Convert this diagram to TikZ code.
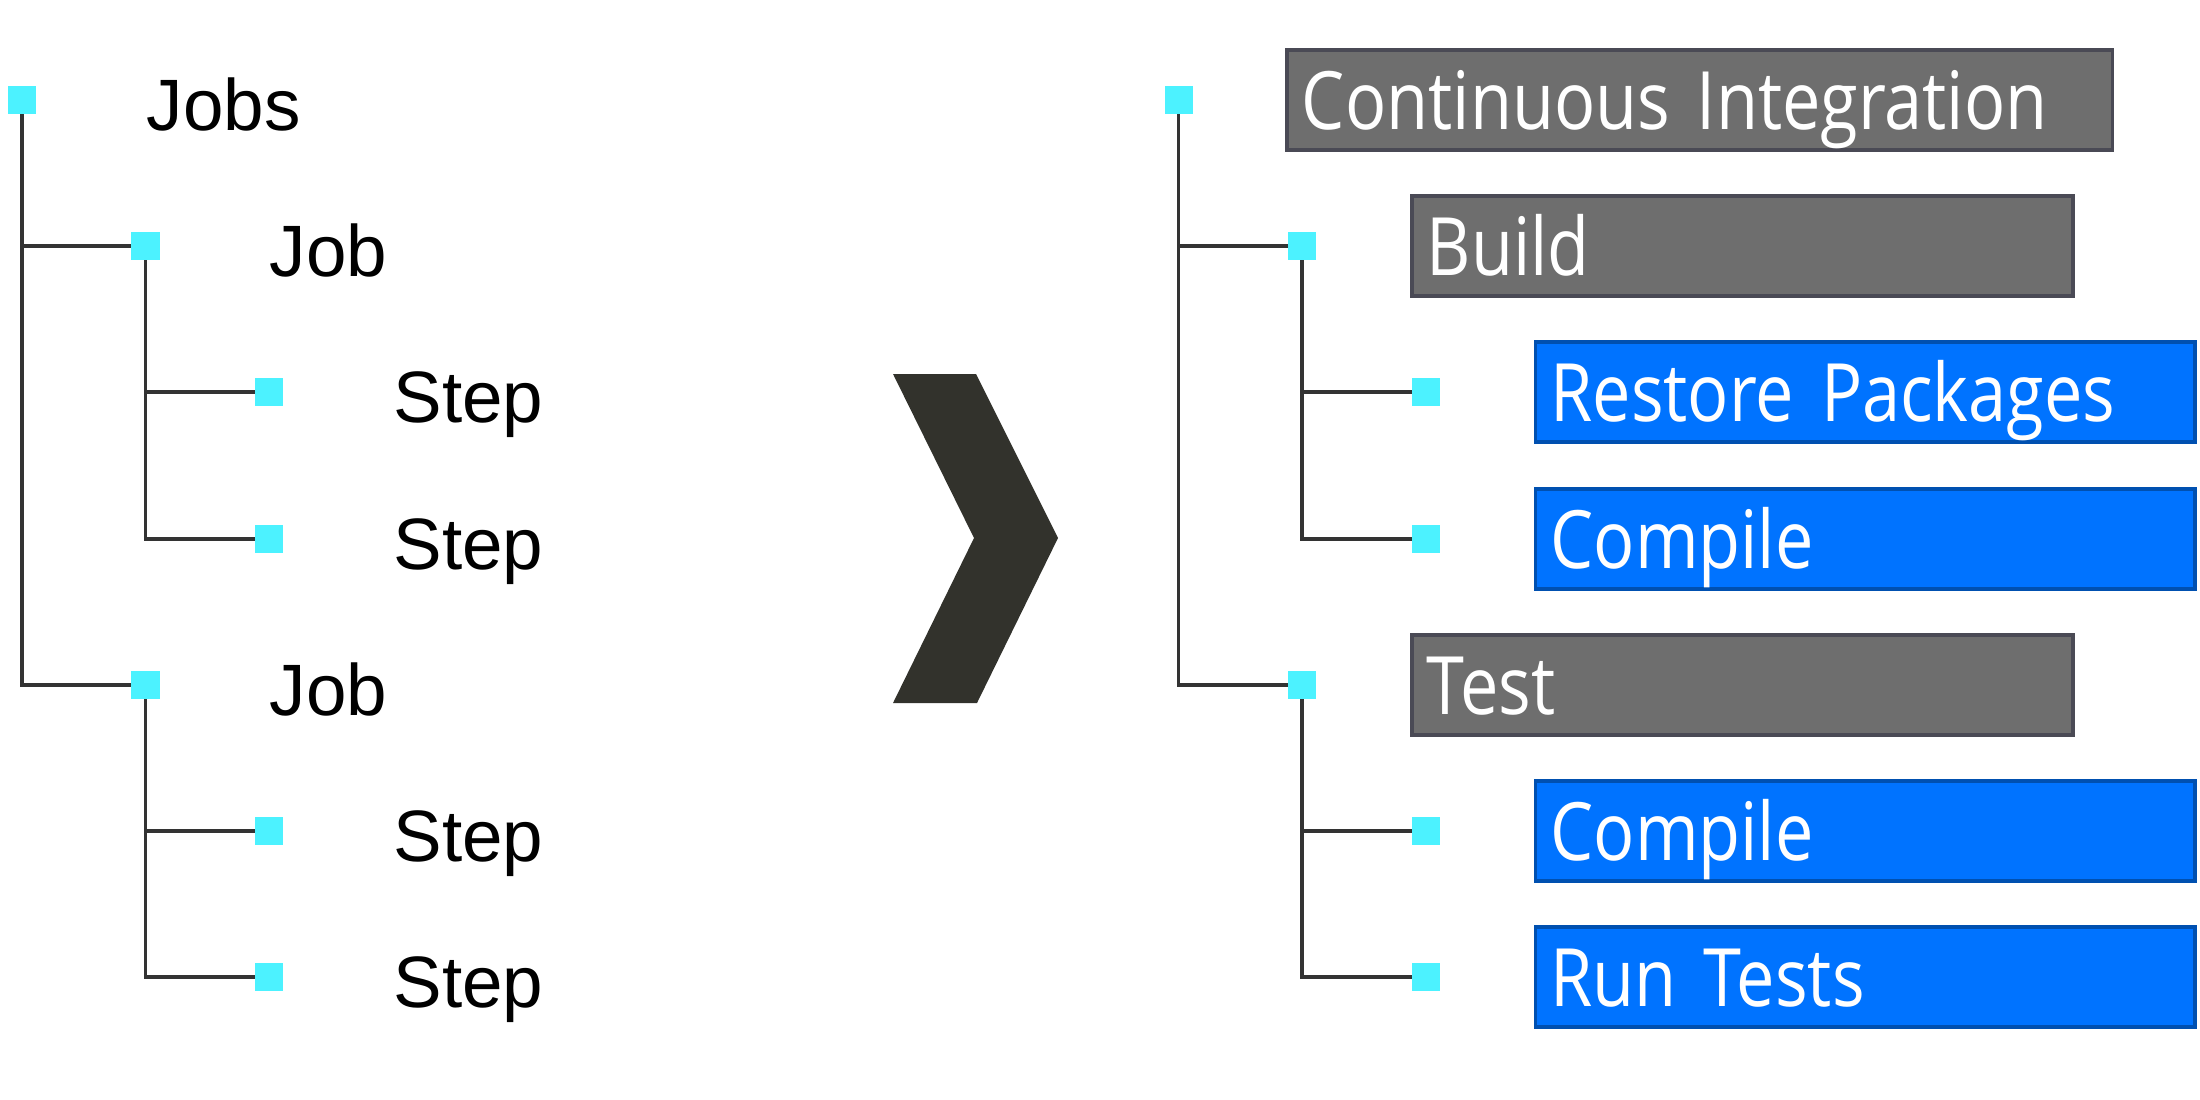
\documentclass[tikz,border=0pt]{standalone}
\usepackage{fontspec}
\setmainfont{Liberation Sans}
\newfontfamily\boxfont[FakeStretch=0.85]{Open Sans}
\definecolor{sqcyan}{HTML}{4CF2FF}
\definecolor{linegray}{HTML}{333333}
\definecolor{boxgray}{HTML}{6E6E6E}
\definecolor{boxgrayborder}{HTML}{4A4A55}
\definecolor{boxblue}{HTML}{0073FF}
\definecolor{boxblueborder}{HTML}{0050B0}
\definecolor{chev}{HTML}{32322C}
\begin{document}
\begin{tikzpicture}[x=0.01cm,y=-0.01cm,
  sq/.style={fill=sqcyan, draw=none, minimum size=0.28cm, inner sep=0pt, outer sep=0pt},
  conn/.style={draw=linegray, line width=0.9pt},
  lbl/.style={anchor=base west, inner sep=0pt, font=\fontsize{20.7}{24}\selectfont},
  cibox/.style={anchor=west, draw, line width=1.1pt, minimum height=1cm, inner xsep=0.15cm, inner ysep=0pt,
     text height=20pt, text depth=3pt, align=left, text=white, font=\boxfont\fontsize{22.9}{26}\selectfont},
  graybox/.style={cibox, fill=boxgray, draw=boxgrayborder},
  bluebox/.style={cibox, fill=boxblue, draw=boxblueborder, text width=6.29cm}
]
\useasboundingbox (0,0) rectangle (2200,1100);

% ---------- left tree ----------
\node[sq] (L0) at (22,100) {};
\node[sq] (L1) at (145.5,246) {};
\node[sq] (L2) at (269,392) {};
\node[sq] (L3) at (269,539) {};
\node[sq] (L4) at (145.5,685) {};
\node[sq] (L5) at (269,831) {};
\node[sq] (L6) at (269,977) {};

\node[lbl] (tL0) at (146,130) {Jobs};
\node[lbl] (tL1) at (269,276) {Job};
\node[lbl] (tL2) at (393,422) {Step};
\node[lbl] (tL3) at (393,569) {Step};
\node[lbl] (tL4) at (269,715) {Job};
\node[lbl] (tL5) at (393,861) {Step};
\node[lbl] (tL6) at (393,1007) {Step};

\draw[conn] (L0.south) |- (L1.west);
\draw[conn] (L0.south) |- (L4.west);
\draw[conn] (L1.south) |- (L2.west);
\draw[conn] (L1.south) |- (L3.west);
\draw[conn] (L4.south) |- (L5.west);
\draw[conn] (L4.south) |- (L6.west);

% ---------- chevron ----------
\fill[chev] (893,374) -- (976,374) -- (1058,538) -- (977,703) -- (893,703) -- (974,538) -- cycle;

% ---------- right tree ----------
\node[sq] (R0) at (1178.5,100) {};
\node[sq] (R1) at (1302,246) {};
\node[sq] (R2) at (1425.5,392) {};
\node[sq] (R3) at (1425.5,539) {};
\node[sq] (R4) at (1302,685) {};
\node[sq] (R5) at (1425.5,831) {};
\node[sq] (R6) at (1425.5,977) {};

\draw[conn] (R0.south) |- (R1.west);
\draw[conn] (R0.south) |- (R4.west);
\draw[conn] (R1.south) |- (R2.west);
\draw[conn] (R1.south) |- (R3.west);
\draw[conn] (R4.south) |- (R5.west);
\draw[conn] (R4.south) |- (R6.west);

\node[graybox, text width=7.95cm] (B0) at (1285,100) {Continuous Integration};
\node[graybox, text width=6.31cm] (B1) at (1410,246) {Build};
\node[bluebox] (B2) at (1533.5,392) {Restore Packages};
\node[bluebox] (B3) at (1533.5,539) {Compile};
\node[graybox, text width=6.31cm] (B4) at (1410,685) {Test};
\node[bluebox] (B5) at (1533.5,831) {Compile};
\node[bluebox] (B6) at (1533.5,977) {Run Tests};
\end{tikzpicture}
\end{document}
